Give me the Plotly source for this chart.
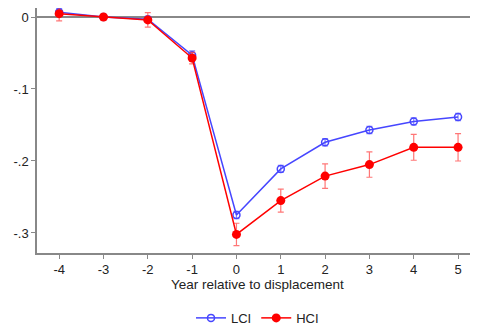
import plotly.graph_objects as go

years = [-4, -3, -2, -1, 0, 1, 2, 3, 4, 5]
xtick_text = ["-4", "-3", "-2", "-1", "0", "1", "2", "3", "4", "5"]
lci = [0.0065, 0.0, -0.003, -0.053, -0.275, -0.211, -0.174, -0.157, -0.145, -0.139]
lci_err = [0.005, 0.001, 0.004, 0.006, 0.005, 0.005, 0.005, 0.005, 0.005, 0.005]
hci = [0.0046, 0.0, -0.004, -0.057, -0.302, -0.255, -0.221, -0.205, -0.181, -0.181]
hci_err = [0.01, 0.001, 0.01, 0.008, 0.0155, 0.016, 0.017, 0.0176, 0.018, 0.019]
ytick_vals = [0, -0.1, -0.2, -0.3]
ytick_text = ["0", "-.1", "-.2", "-.3"]

blue = "rgb(70,70,255)"
red = "rgb(255,0,0)"

fig = go.Figure()
fig.add_trace(go.Scatter(
    x=years, y=lci, name="LCI", mode="lines+markers",
    line=dict(color=blue, width=1.5),
    marker=dict(symbol="circle-open", size=7, color=blue, line=dict(width=1.5)),
    error_y=dict(type="data", array=lci_err, color="rgba(80,80,255,0.7)", thickness=1.2, width=3),
))
fig.add_trace(go.Scatter(
    x=years, y=hci, name="HCI", mode="lines+markers",
    line=dict(color=red, width=1.5),
    marker=dict(symbol="circle", size=9, color=red),
    error_y=dict(type="data", array=hci_err, color="rgba(255,60,60,0.7)", thickness=1.2, width=3),
))

fig.add_annotation(
    text="Year relative to displacement", xref="paper", yref="paper",
    x=0.5, y=-0.1306, xanchor="center", yanchor="middle", showarrow=False,
    font=dict(size=13.5, color="#222"),
)

fig.update_layout(
    width=470, height=318,
    margin=dict(l=29, r=0, t=0, b=73, autoexpand=False),
    plot_bgcolor="white", paper_bgcolor="white",
    font=dict(family="Liberation Sans, Arial", size=13, color="#222"),
    showlegend=True,
    legend=dict(orientation="h", x=0.5, xanchor="center", y=-0.265, yanchor="middle",
                font=dict(size=13), itemwidth=30),
    xaxis=dict(
        range=[-4.5, 5.45], tickvals=years, ticktext=xtick_text,
        ticks="outside", ticklen=4, tickcolor="#888",
        showgrid=False, zeroline=False, showline=True, linecolor="#888", linewidth=1.5,
        automargin=False,
    ),
    yaxis=dict(
        range=[-0.3278, 0.0125], tickvals=ytick_vals, ticktext=ytick_text,
        ticks="outside", ticklen=4, tickcolor="#888", automargin=False,
        showgrid=False, zeroline=True, zerolinecolor="#888", zerolinewidth=1.5,
        showline=True, linecolor="#888", linewidth=1.5,
    ),
)

fig.write_html("out.html")
